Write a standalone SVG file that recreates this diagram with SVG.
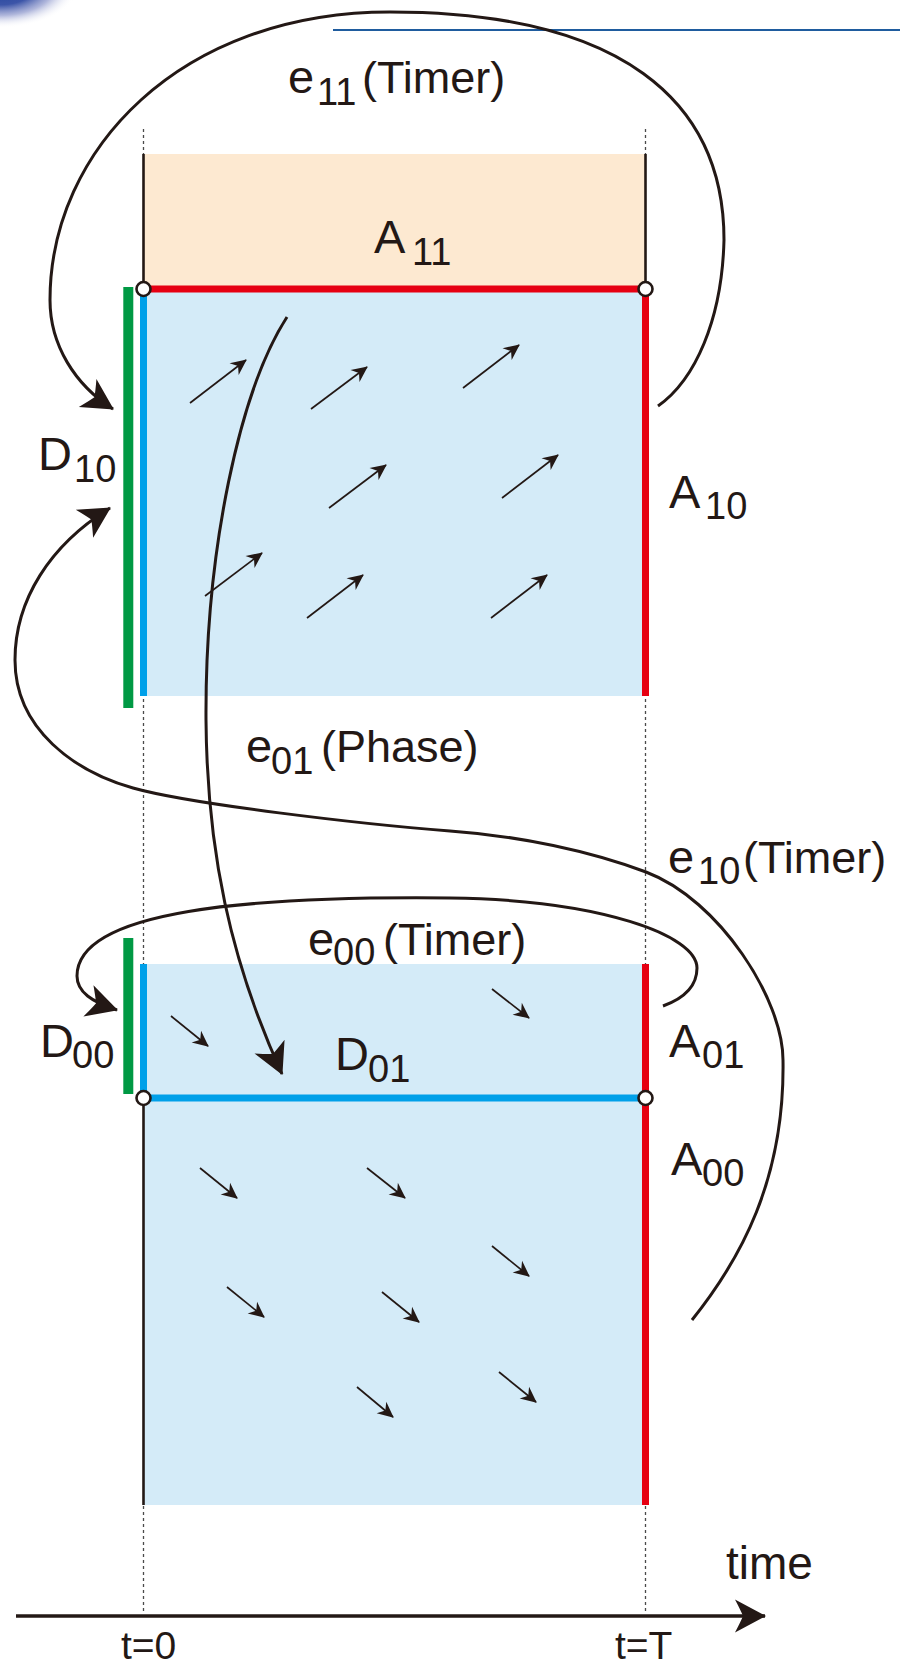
<svg xmlns="http://www.w3.org/2000/svg" width="900" height="1668" viewBox="0 0 900 1668">
<style>
.t{font-family:"Liberation Sans",Arial,sans-serif;font-size:47px;fill:#231815}
.s{font-size:38px}
.p{font-size:45px}
.ax{font-size:39px}
.dot{stroke:#4a4a4a;stroke-width:1.3;stroke-dasharray:3 3;fill:none}
.blk{stroke:#231815;stroke-width:2.6;fill:none}
.red{stroke:#e60012;stroke-width:7;fill:none}
.cy{stroke:#00a0e9;stroke-width:7;fill:none}
.grn{stroke:#009944;stroke-width:10;fill:none}
.node{fill:#fff;stroke:#231815;stroke-width:2.6}
.cur{stroke:#231815;stroke-width:3;fill:none;marker-end:url(#ah)}
.sa{stroke:#231815;stroke-width:1.7;fill:none;marker-end:url(#sh)}
</style>
<defs>
<marker id="ah" markerUnits="userSpaceOnUse" markerWidth="40" markerHeight="40" viewBox="-33 -20 36 40" refX="0" refY="0" orient="auto">
<path d="M1,0 L-30,-16.5 Q-24,-5 -22,0 Q-24,5 -30,16.5 Z" fill="#231815"/>
</marker>
<marker id="sh" markerUnits="userSpaceOnUse" markerWidth="20" markerHeight="20" viewBox="-17 -10 19 20" refX="0" refY="0" orient="auto">
<path d="M1,0 L-15,-7.5 L-10,0 L-15,7.5 Z" fill="#231815"/>
</marker>
<radialGradient id="blob" cx="0.5" cy="0.5" r="0.5">
<stop offset="0" stop-color="#1c3f98"/>
<stop offset="0.45" stop-color="#3c55a8"/>
<stop offset="0.7" stop-color="#8d97cc" stop-opacity="0.7"/>
<stop offset="1" stop-color="#ffffff" stop-opacity="0"/>
</radialGradient>
</defs>

<g id="decor">
<ellipse cx="0" cy="-14" rx="78" ry="42" fill="url(#blob)"/>
<line x1="333" y1="30" x2="900" y2="30" stroke="#1f5c9e" stroke-width="2"/>
</g>

<g id="A11">
<rect x="143.5" y="154" width="502" height="135" fill="#fde9d1"/>
<line class="blk" x1="143.5" y1="154" x2="143.5" y2="289"/>
<line class="blk" x1="645.5" y1="154" x2="645.5" y2="289"/>
<text class="t" x="374" y="253">A<tspan class="s" x="412" y="265">11</tspan></text>
</g>

<g id="upper-region">
<rect x="143.5" y="289" width="502" height="407" fill="#d4ebf8"/>
<line class="cy" x1="143.5" y1="289" x2="143.5" y2="696"/>
<line class="red" x1="645.5" y1="289" x2="645.5" y2="696"/>
<line class="red" x1="143.5" y1="289" x2="645.5" y2="289"/>
<line class="sa" x1="190" y1="403" x2="246" y2="360"/>
<line class="sa" x1="311" y1="409" x2="367" y2="367"/>
<line class="sa" x1="329" y1="508" x2="386" y2="465"/>
<line class="sa" x1="205" y1="596" x2="262" y2="553"/>
<line class="sa" x1="307" y1="618" x2="363" y2="575"/>
<line class="sa" x1="463" y1="388" x2="519" y2="345"/>
<line class="sa" x1="502" y1="498" x2="558" y2="455"/>
<line class="sa" x1="491" y1="618" x2="547" y2="575"/>
</g>

<g id="D10">
<line class="grn" x1="128.3" y1="287" x2="128.3" y2="708"/>
<text class="t" x="38" y="470">D<tspan class="s" x="74" y="482">10</tspan></text>
</g>

<g id="A10">
<text class="t" x="669" y="508">A<tspan class="s" x="705" y="519">10</tspan></text>
</g>

<g id="lower-region">
<rect x="143.5" y="964" width="502" height="541" fill="#d4ebf8"/>
<line class="cy" x1="143.5" y1="964" x2="143.5" y2="1098"/>
<line class="blk" x1="143.5" y1="1098" x2="143.5" y2="1505"/>
<line class="red" x1="645.5" y1="964" x2="645.5" y2="1505"/>
<line class="cy" x1="143.5" y1="1098" x2="645.5" y2="1098"/>
<line class="sa" x1="171" y1="1016" x2="208" y2="1046"/>
<line class="sa" x1="492" y1="989" x2="529" y2="1018"/>
<line class="sa" x1="200" y1="1168" x2="237" y2="1198"/>
<line class="sa" x1="367" y1="1168" x2="405" y2="1198"/>
<line class="sa" x1="492" y1="1246" x2="529" y2="1276"/>
<line class="sa" x1="227" y1="1287" x2="264" y2="1317"/>
<line class="sa" x1="382" y1="1292" x2="419" y2="1322"/>
<line class="sa" x1="357" y1="1387" x2="393" y2="1417"/>
<line class="sa" x1="499" y1="1372" x2="536" y2="1402"/>
</g>

<g id="D00">
<line class="grn" x1="128.3" y1="938" x2="128.3" y2="1094"/>
<text class="t" x="40" y="1057">D<tspan class="s" x="72" y="1068">00</tspan></text>
</g>

<g id="D01">
<text class="t" x="335" y="1070">D<tspan class="s" x="368" y="1082">01</tspan></text>
</g>

<g id="A01">
<text class="t" x="669" y="1057">A<tspan class="s" x="702" y="1068">01</tspan></text>
</g>

<g id="A00">
<text class="t" x="671" y="1175">A<tspan class="s" x="702" y="1186">00</tspan></text>
</g>

<g id="nodes">
<circle class="node" cx="143.5" cy="289" r="7"/>
<circle class="node" cx="645.5" cy="289" r="7"/>
<circle class="node" cx="143.5" cy="1098" r="7"/>
<circle class="node" cx="645.5" cy="1098" r="7"/>
</g>

<g id="guides">
<line class="dot" x1="143.5" y1="129" x2="143.5" y2="154"/>
<line class="dot" x1="645.5" y1="129" x2="645.5" y2="154"/>
<line class="dot" x1="143.5" y1="699" x2="143.5" y2="964"/>
<line class="dot" x1="645.5" y1="699" x2="645.5" y2="964"/>
<line class="dot" x1="143.5" y1="1506" x2="143.5" y2="1614"/>
<line class="dot" x1="645.5" y1="1506" x2="645.5" y2="1614"/>
</g>

<g id="connectors">
<path id="e11" class="cur" d="M658,406 C695,380 722,320 724,240 C724,100 620,12 390,12 C180,12 50,150 50,300 C50,345 75,385 113,409"/>
<path id="e10" class="cur" d="M692,1320 C740,1260 785,1180 783,1060 C783,1000 720,900 646,872 C590,851 520,836 450,831 C360,824 190,804 133,788 C76,772 15,730 15,660 C15,600 50,545 110,508"/>
<path id="e01" class="cur" d="M287,317 C240,390 205,550 206,720 C207,850 230,960 282,1074"/>
<path id="e00" class="cur" d="M663,1006 C685,998 697,985 697,968 C697,935 600,900 450,898 C250,896 77,910 77,976 C77,992 92,1002 117,1010"/>
</g>

<g id="edge-labels">
<text class="t" x="288" y="93">e<tspan class="s" x="317" y="105">11</tspan><tspan class="p" x="362" y="93">(Timer)</tspan></text>
<text class="t" x="246" y="762">e<tspan class="s" x="271" y="774">01</tspan><tspan class="p" x="321" y="762">(Phase)</tspan></text>
<text class="t" x="668" y="873">e<tspan class="s" x="698" y="884">10</tspan><tspan class="p" x="743" y="873">(Timer)</tspan></text>
<text class="t" x="308" y="955">e<tspan class="s" x="333" y="965">00</tspan><tspan class="p" x="383" y="955">(Timer)</tspan></text>
</g>

<g id="time-axis">
<line x1="16" y1="1616" x2="765" y2="1616" stroke="#231815" stroke-width="3.5" marker-end="url(#ah)"/>
<text class="t" x="726" y="1579" style="font-size:46px">time</text>
<text class="t ax" x="121" y="1659">t=0</text>
<text class="t ax" x="615" y="1659">t=T</text>
</g>
</svg>
